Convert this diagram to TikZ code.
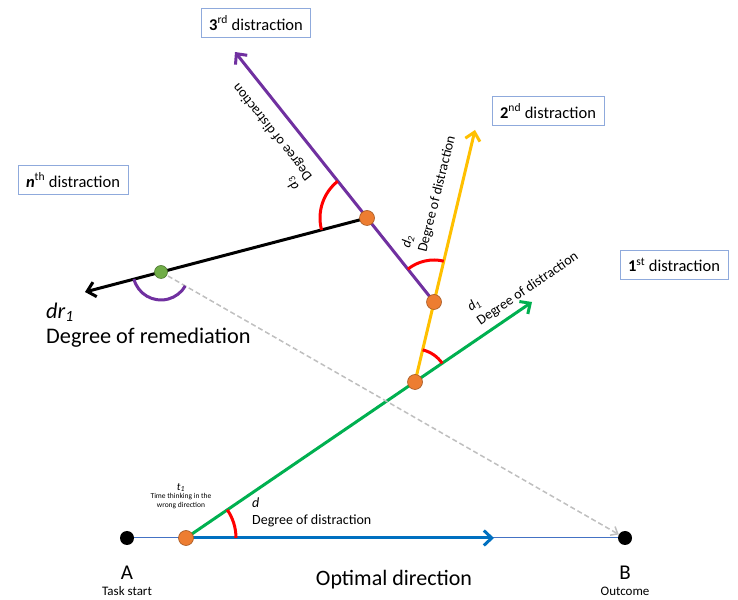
\documentclass[tikz,border=0pt]{standalone}
\usepackage{fontspec}
\setmainfont{Carlito}
\usetikzlibrary{arrows.meta,backgrounds}
\definecolor{distGreen}{RGB}{0,176,80}
\definecolor{distGold}{RGB}{255,192,0}
\definecolor{distPurple}{RGB}{112,48,160}
\definecolor{optBlue}{RGB}{0,112,192}
\definecolor{thinBlue}{RGB}{68,114,196}
\definecolor{dotOrange}{RGB}{237,125,49}
\definecolor{dotGreen}{RGB}{112,173,71}
\definecolor{boxBlue}{RGB}{143,170,220}
\definecolor{dashGray}{RGB}{191,191,191}
\begin{document}
\begin{tikzpicture}[
    x=1pt, y=1pt,
    enddot/.style={circle, fill=black, minimum size=14pt, inner sep=0pt},
    turndot/.style={circle, draw=dotOrange!70!black, fill=dotOrange, minimum size=15pt, inner sep=0pt, line width=0.6pt},
    remdot/.style={circle, draw=dotGreen!70!black, fill=dotGreen, minimum size=13pt, inner sep=0pt, line width=0.6pt},
    dirline/.style={line width=3pt, -{Straight Barb[length=8pt,width=15pt]}},
    angmark/.style={red, line width=3pt},
    distbox/.style={draw=boxBlue, line width=0.8pt, minimum height=29pt, inner xsep=8pt, font=\fontsize{16.5}{20}\selectfont},
    degtext/.style={font=\fontsize{14}{17}\selectfont, align=left, inner sep=0pt}
  ]
    \useasboundingbox (0,0) rectangle (738,599);
    % Start, outcome and turning points
    \node[enddot] (A) at (127,61) {};
    \node[enddot] (B) at (625,61) {};
    \node[turndot] (p1) at (186,61) {};
    \node[turndot] (p2) at (415,217) {};
    \node[turndot] (p3) at (434,297) {};
    \node[turndot] (p4) at (367,381) {};
    \node[remdot] (g1) at (161,327) {};
    % Ends of the arrows
    \coordinate (blueend) at (494,61);
    \coordinate (greenend) at (532,297);
    \coordinate (goldend) at (475,469);
    \coordinate (purpleend) at (235,547);
    \coordinate (blackend) at (85,307);
    % Directions (behind the dots)
    \begin{scope}[on background layer]
      \draw[thinBlue, line width=1pt] (A.center) -- (B.center);
      \draw[dirline, optBlue] (p1.center) -- (blueend);
      \draw[dirline, distGreen] (p1.center) -- (greenend);
      \draw[dirline, distGold] (p2.center) -- (goldend);
      \draw[dirline, distPurple] (p3.center) -- (purpleend);
      \draw[dirline, black] (p4.center) -- (blackend);
      \draw[dashGray, line width=1.5pt, dash pattern=on 5pt off 3pt,
        -{Straight Barb[length=6pt,width=10pt]}] (g1.center) -- (B);
    \end{scope}
    % Angles
    \draw[angmark] (p1.center) ++(0:50pt) arc[start angle=0, end angle=34.3, radius=50pt];
    \draw[angmark] (p2.center) ++(34.3:33pt) arc[start angle=34.3, end angle=76.6, radius=33pt];
    \draw[angmark] (p3.center) ++(76.6:42pt) arc[start angle=76.6, end angle=128.5, radius=42pt];
    \draw[angmark] (p4.center) ++(128.5:47pt) arc[start angle=128.5, end angle=194.7, radius=47pt];
    \draw[distPurple, line width=3pt] (g1.center) ++(194.7:28pt) arc[start angle=194.7, end angle=330.2, radius=28pt];
    % Distraction boxes
    \node[distbox] (box3) at (256,576) {\textbf{3}\textsuperscript{rd} distraction};
    \node[distbox] (box2) at (548,488) {\textbf{2}\textsuperscript{nd} distraction};
    \node[distbox] (boxn) at (73,419) {\textbf{\textit{n}}\textsuperscript{th} distraction};
    \node[distbox] (box1) at (674,334) {\textbf{1}\textsuperscript{st} distraction};
    % Degree labels
    \node[degtext, rotate=34.3] (d1lab) at (523,317) {\textit{d\textsubscript{1}}\\Degree of distraction};
    \node[degtext, rotate=76] (d2lab) at (429,407) {\textit{d\textsubscript{2}}\\Degree of distraction};
    \node[degtext, rotate=128.5] (d3lab) at (266,462) {\textit{d\textsubscript{3}}\\Degree of distraction};
    \node[degtext, anchor=west] (dlab) at (252,87) {\textit{d}\\Degree of distraction};
    \node[align=center, inner sep=0pt, font=\fontsize{7.5}{8.5}\selectfont] (t1lab) at (181,103)
      {{\fontsize{11}{11}\selectfont\textit{t\textsubscript{1}}}\\Time thinking in the\\wrong direction};
    \node[anchor=west, align=left, inner sep=0pt, font=\fontsize{22.3}{25}\selectfont] (drlab) at (46,274)
      {\textit{dr\textsubscript{1}}\\Degree of remediation};
    % Bottom labels
    \node[font=\fontsize{21}{21}\selectfont] (alab) at (127,26) {A};
    \node[font=\fontsize{13}{13}\selectfont] (asub) at (127,8) {Task start};
    \node[font=\fontsize{21}{21}\selectfont] (blab) at (625,26) {B};
    \node[font=\fontsize{13}{13}\selectfont] (bsub) at (625,8) {Outcome};
    \node[font=\fontsize{22}{22}\selectfont] (optlab) at (394,19) {Optimal direction};
\end{tikzpicture}
\end{document}
